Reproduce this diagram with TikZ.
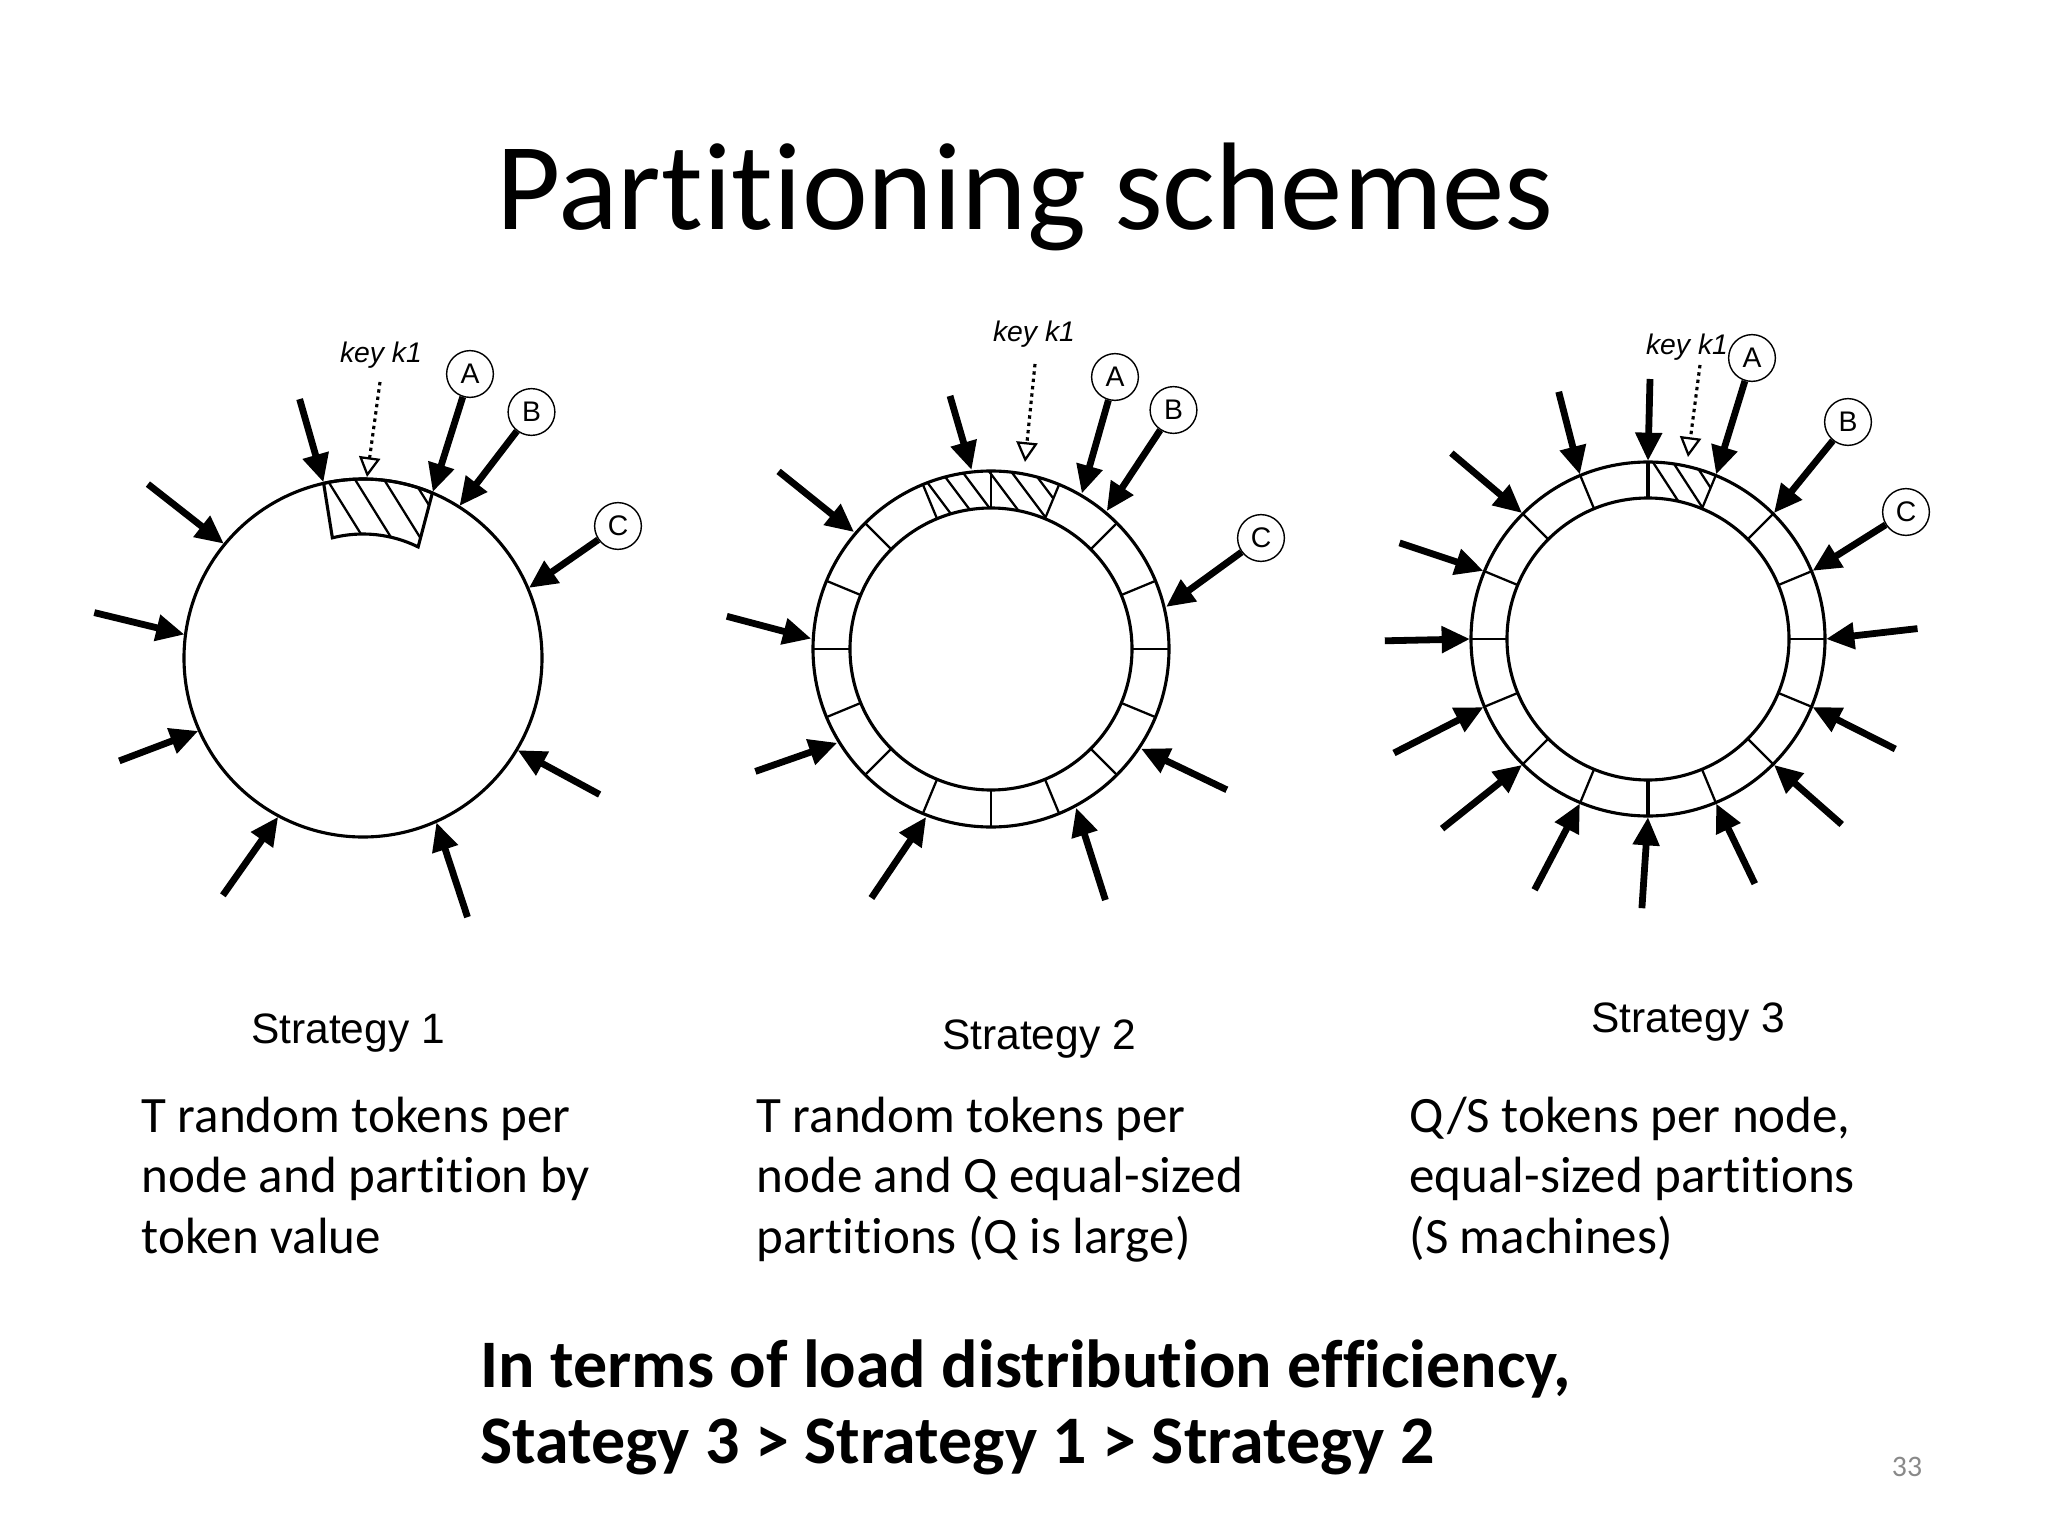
\documentclass[tikz,border=0pt]{standalone}
\usepackage{fontspec}
\setmainfont{Carlito}[Ligatures={NoCommon}]
\newfontfamily\arialf{Liberation Sans}
\usetikzlibrary{arrows.meta,calc}
\definecolor{pgnum}{RGB}{137,137,137}
\begin{document}
\begin{tikzpicture}[x=0.352881pt,y=-0.352881pt,
  tok/.style={line width=2.4pt,-{Triangle[length=10pt,width=9pt]}},
  keyarr/.style={line width=1.1pt,dash pattern=on 1.2pt off 1.4pt,-{Triangle[length=7pt,width=7.5pt,fill=white,line width=0.8pt]}},
  ring/.style={line width=1.1pt},
  divider/.style={line width=0.8pt},
  hatch/.style={line width=0.8pt},
  lbl/.style={circle,draw,line width=0.5pt,minimum size=16.5pt,inner sep=0pt,font=\arialf\fontsize{10}{12}\selectfont},
  keylbl/.style={inner sep=0pt,font=\arialf\itshape\fontsize{10}{12}\selectfont},
  strat/.style={inner sep=0pt,anchor=base,font=\arialf\fontsize{15}{18}\selectfont},
  body/.style={inner sep=0pt,anchor=base west,font=\fontsize{18}{22}\selectfont},
  concl/.style={inner sep=0pt,anchor=base west,font=\fontsize{24}{29}\selectfont\bfseries},
]
\fill[white] (0,0) rectangle (2048,1536);
\useasboundingbox (0,0) rectangle (2048,1536);

% ---------- title ----------
\node[inner sep=0pt,anchor=base,font=\fontsize{44}{53}\selectfont] (title) at (1025,230) {Partitioning schemes};

% ================= Strategy 1 =================
\coordinate (c1) at (363,658);
\draw[ring] (c1) circle[radius=179];
\begin{scope}
  \clip ($(c1)+(-102.7:179)$) arc[start angle=-102.7,end angle=-67.2,radius=179]
        -- ($(c1)+(-63.6:124)$) arc[start angle=-63.6,end angle=-104.3,radius=124] -- cycle;
  \foreach \x in {318,346,375,404} {\draw[hatch] (\x,465) -- ++(56,90);}
\end{scope}
\draw[ring] ($(c1)+(-102.7:179)$) arc[start angle=-102.7,end angle=-67.2,radius=179]
        -- ($(c1)+(-63.6:124)$) arc[start angle=-63.6,end angle=-104.3,radius=124] -- cycle;

\node[lbl] (s1A) at (470,374) {A};
\node[lbl] (s1B) at (531.5,412) {B};
\node[lbl] (s1C) at (618,526) {C};
\coordinate (s1hA) at ($(c1)+(-67.2:180)$);
\coordinate (s1hB) at ($(c1)+(-57.6:180)$);
\coordinate (s1hC) at ($(c1)+(-22.9:180)$);
\draw[tok] (s1A) -- (s1hA);
\draw[tok] (s1B) -- (s1hB);
\draw[tok] (s1C) -- (s1hC);

\coordinate (s1t1) at (299.6,399.1);  \coordinate (s1h1) at ($(c1)+(-102.7:180)$);
\coordinate (s1t5) at (599.6,794.5);  \coordinate (s1h5) at ($(c1)+(30.8:180)$);
\coordinate (s1t6) at (467.5,917.1);  \coordinate (s1h6) at ($(c1)+(65.95:180)$);
\coordinate (s1t7) at (222.9,895.3);  \coordinate (s1h7) at ($(c1)+(118.1:180)$);
\coordinate (s1t8) at (119.3,760.9);  \coordinate (s1h8) at ($(c1)+(156.1:180)$);
\coordinate (s1t9) at (94.3,612.6);   \coordinate (s1h9) at ($(c1)+(187.5:180)$);
\coordinate (s1t10) at (147.9,484.1); \coordinate (s1h10) at ($(c1)+(219.4:180)$);
\foreach \i in {1,5,6,7,8,9,10} {\draw[tok] (s1t\i) -- (s1h\i);}

\node[keylbl] (s1key) at (381,355) {key k1};
\coordinate (s1ks) at (380,382);
\coordinate (s1ke) at (367,477);
\draw[keyarr] (s1ks) -- (s1ke);

\node[strat] (s1lab) at (348,1043) {Strategy 1};

% ================= Strategy 2 =================
\coordinate (c2) at (991,649);
\draw[ring] (c2) circle[radius=178];
\draw[ring] (c2) circle[radius=141];
\foreach \a in {0,22.5,...,337.5} {\draw[divider] ($(c2)+(\a:141)$) -- ($(c2)+(\a:178)$);}
\begin{scope}
  \clip ($(c2)+(-112.5:178)$) arc[start angle=-112.5,end angle=-67.5,radius=178]
        -- ($(c2)+(-67.5:141)$) arc[start angle=-67.5,end angle=-112.5,radius=141] -- cycle;
  \foreach \x in {933,955,976,1003,1025,1047} {\draw[hatch] (\x-30,450) -- ++(60,80);}
\end{scope}

\node[lbl] (s2A) at (1115,377) {A};
\node[lbl] (s2B) at (1173.5,410) {B};
\node[lbl] (s2C) at (1261,538) {C};
\coordinate (s2hA) at ($(c2)+(-59.7:180)$);
\coordinate (s2hB) at ($(c2)+(-50:180)$);
\coordinate (s2hC) at ($(c2)+(-13.5:180)$);
\draw[tok] (s2A) -- (s2hA);
\draw[tok] (s2B) -- (s2hB);
\draw[tok] (s2C) -- (s2hC);

\coordinate (s2t1) at (950,395.9);    \coordinate (s2h1) at ($(c2)+(-96.2:180)$);
\coordinate (s2t5) at (1226.8,789.8); \coordinate (s2h5) at ($(c2)+(33.6:180)$);
\coordinate (s2t6) at (1105.4,900);   \coordinate (s2h6) at ($(c2)+(61.8:180)$);
\coordinate (s2t7) at (871.4,898);    \coordinate (s2h7) at ($(c2)+(111.1:180)$);
\coordinate (s2t8) at (755.4,771.4);  \coordinate (s2h8) at ($(c2)+(148.6:180)$);
\coordinate (s2t9) at (726.8,616.3);  \coordinate (s2h9) at ($(c2)+(183.3:180)$);
\coordinate (s2t10) at (778.6,471.4); \coordinate (s2h10) at ($(c2)+(220.5:180)$);
\foreach \i in {1,5,6,7,8,9,10} {\draw[tok] (s2t\i) -- (s2h\i);}

\node[keylbl] (s2key) at (1034,334) {key k1};
\coordinate (s2ks) at (1035,364);
\coordinate (s2ke) at (1025,462);
\draw[keyarr] (s2ks) -- (s2ke);

\node[strat] (s2lab) at (1039,1049) {Strategy 2};

% ================= Strategy 3 =================
\coordinate (c3) at (1648,639);
\draw[ring] (c3) circle[radius=177];
\draw[ring] (c3) circle[radius=141];
\foreach \a in {0,22.5,...,337.5} {\draw[divider] ($(c3)+(\a:141)$) -- ($(c3)+(\a:177)$);}
\draw[line width=1.2pt] ($(c3)+(-90:141)$) -- ($(c3)+(-90:177)$);
\draw[line width=1.2pt] ($(c3)+(90:141)$) -- ($(c3)+(90:177)$);
\begin{scope}
  \clip ($(c3)+(-90:177)$) arc[start angle=-90,end angle=-67.5,radius=177]
        -- ($(c3)+(-67.5:141)$) arc[start angle=-67.5,end angle=-90,radius=141] -- cycle;
  \foreach \x in {1665,1685,1706} {\draw[hatch] (\x-20,450) -- ++(52,80);}
\end{scope}

\node[lbl] (s3A) at (1752,358) {A};
\node[lbl] (s3B) at (1848,422) {B};
\node[lbl] (s3C) at (1906,512) {C};
\coordinate (s3hA) at ($(c3)+(-67.5:178)$);
\coordinate (s3hB) at ($(c3)+(-45:178)$);
\coordinate (s3hC) at ($(c3)+(-22.5:178)$);
\draw[tok] (s3A) -- (s3hA);
\draw[tok] (s3B) -- (s3hB);
\draw[tok] (s3C) -- (s3hC);

\coordinate (s3t1) at (1558.7,391.8);  \coordinate (s3h1) at ($(c3)+(-112.5:178)$);
\coordinate (s3t2) at (1650,379);      \coordinate (s3h2) at ($(c3)+(-90:178)$);
\coordinate (s3t3) at (1917.5,628.6);  \coordinate (s3h3) at ($(c3)+(0:178)$);
\coordinate (s3t4) at (1895.3,749);    \coordinate (s3h4) at ($(c3)+(22.5:178)$);
\coordinate (s3t5) at (1841.7,824.5);  \coordinate (s3h5) at ($(c3)+(45:178)$);
\coordinate (s3t6) at (1754.8,883.7);  \coordinate (s3h6) at ($(c3)+(67.5:178)$);
\coordinate (s3t7) at (1641.9,908.2);  \coordinate (s3h7) at ($(c3)+(90:178)$);
\coordinate (s3t8) at (1534.6,889.8);  \coordinate (s3h8) at ($(c3)+(112.5:178)$);
\coordinate (s3t9) at (1442.1,828.6);  \coordinate (s3h9) at ($(c3)+(135:178)$);
\coordinate (s3t10) at (1394,753);     \coordinate (s3h10) at ($(c3)+(157.5:178)$);
\coordinate (s3t11) at (1384.8,640.8); \coordinate (s3h11) at ($(c3)+(180:178)$);
\coordinate (s3t12) at (1399.6,542.9); \coordinate (s3h12) at ($(c3)+(202.5:178)$);
\coordinate (s3t13) at (1451.4,453.1); \coordinate (s3h13) at ($(c3)+(225:178)$);
\foreach \i in {1,...,13} {\draw[tok] (s3t\i) -- (s3h\i);}

\node[keylbl] (s3key) at (1687,347.5) {key k1};
\coordinate (s3ks) at (1700,365);
\coordinate (s3ke) at (1688,457);
\draw[keyarr] (s3ks) -- (s3ke);

\node[strat] (s3lab) at (1688,1032) {Strategy 3};

% ---------- descriptions ----------
\node[body] (d1a) at (141,1132) {T random tokens per};
\node[body] (d1b) at (141,1192) {node and partition by};
\node[body] (d1c) at (141,1253) {token value};
\node[body] (d2a) at (756,1132) {T random tokens per};
\node[body] (d2b) at (756,1192) {node and Q equal-sized};
\node[body] (d2c) at (756,1253) {partitions (Q is large)};
\node[body] (d3a) at (1409,1132) {Q/S tokens per node,};
\node[body] (d3b) at (1409,1192) {equal-sized partitions};
\node[body] (d3c) at (1409,1253) {(S machines)};

% ---------- conclusion ----------
\node[concl] (cc1) at (480,1387) {In terms of load distribution efficiency,};
\node[concl] (cc2) at (480,1463) {Stategy 3 > Strategy 1 > Strategy 2};

\node[inner sep=0pt,anchor=base,text=pgnum,font=\fontsize{10.5}{12}\selectfont] (pg) at (1907,1476) {33};
\end{tikzpicture}
\end{document}
